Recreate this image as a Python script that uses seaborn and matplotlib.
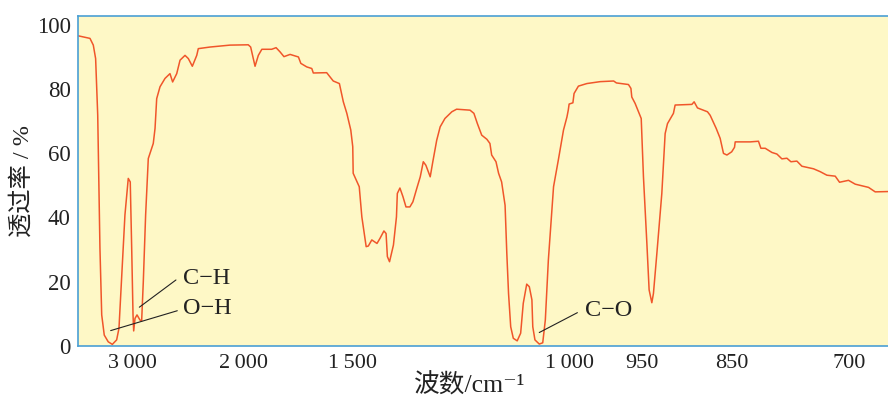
import numpy as np
import pandas as pd
import matplotlib
matplotlib.use("Agg")
import matplotlib.pyplot as plt
import seaborn as sns

# IR spectrum (wavenumber cm-1, transmittance %)
wavenumber = [
    3491, 3385, 3355, 3334, 3315, 3295, 3279, 3256, 3220, 3183, 3144, 3123, 3098, 3069,
    3039, 3021, 3008, 2996, 2990, 2978, 2960, 2933, 2918, 2903, 2882, 2858, 2813, 2797,
    2782, 2752, 2707, 2677, 2662, 2638, 2601, 2571, 2526, 2496, 2460, 2420, 2406, 2300,
    2120, 1977, 1966, 1946, 1931, 1915, 1870, 1850, 1832, 1814, 1786, 1748, 1737, 1710,
    1687, 1680, 1619, 1589, 1561, 1543, 1527, 1509, 1500, 1499, 1492, 1485, 1479, 1469,
    1464, 1456, 1444, 1437, 1428, 1423, 1420, 1415, 1406, 1399, 1397, 1391, 1384, 1377,
    1368, 1361, 1352, 1344, 1337, 1331, 1321, 1315, 1306, 1298, 1287, 1271, 1260, 1229,
    1220, 1212, 1202, 1190, 1183, 1179, 1169, 1163, 1156, 1148, 1144, 1140, 1135, 1129,
    1120, 1112, 1106, 1098, 1092, 1086, 1084, 1079, 1069, 1061, 1055, 1048, 1036, 1025,
    1013, 1005, 1002, 1000, 997.4, 996.6, 993.6, 987.8, 978.6, 969.3, 967.4, 959.1,
    957.4, 956.8, 954.5, 952.2, 950.3, 948, 944.2, 941.7, 938.7, 936.9, 933.1, 927.6,
    924.5, 923.9, 921.3, 914.7, 912.8, 894.2, 891.7, 888, 876.9, 873.9, 867.2, 862.8,
    859.1, 855.3, 850, 846.4, 845.5, 826.4, 815.9, 812.8, 807.3, 798.8, 792.4, 786.1,
    779.7, 774.6, 767, 760.6, 745.8, 737.3, 728.8, 718.2, 712.7, 701.3, 692.7, 675.8,
    667.3, 650.7,
]
transmittance = [
    96.7, 95.9, 93.8, 89.6, 71.9, 30.5, 9.6, 3.3, 1.2, 0.4, 1.8, 5.4, 22.0, 40.8,
    52.2, 51.1, 30.4, 9.6, 4.6, 8.5, 9.6, 8.0, 7.7, 20.0, 40.8, 58.4, 63.1, 67.8,
    77.1, 80.8, 83.4, 84.4, 84.9, 82.3, 84.9, 89.1, 90.6, 89.6, 87.2, 90.6, 92.7, 93.2,
    93.8, 93.9, 93.2, 87.2, 90.6, 92.5, 92.5, 93.0, 91.7, 90.2, 90.9, 90.1, 88.1, 87.0,
    86.5, 85.1, 85.2, 82.6, 81.8, 76.1, 72.5, 67.3, 62.1, 53.8, 51.7, 49.6, 40.2, 30.9,
    31.1, 33.0, 31.9, 33.5, 35.8, 35.0, 27.8, 26.2, 31.4, 40.2, 47.5, 49.2, 46.5, 43.3,
    43.3, 44.9, 49.1, 52.7, 57.4, 56.3, 52.7, 57.4, 64.1, 68.3, 70.9, 73.0, 73.8, 73.5,
    72.5, 69.3, 65.7, 64.4, 63.1, 59.5, 57.4, 53.8, 51.1, 43.8, 28.8, 16.3, 5.9, 2.3,
    1.5, 3.9, 13.2, 19.2, 18.4, 14.3, 5.9, 1.8, 0.5, 0.9, 8.0, 26.7, 49.6, 57.9,
    67.3, 71.4, 73.5, 75.4, 75.8, 78.7, 81.0, 81.8, 82.4, 82.6, 82.0, 81.5,
    80.3, 77.6, 75.6, 73.0, 70.9, 52.7, 31.9, 17.4, 13.4, 16.3, 28.8, 47.5,
    63.1, 66.2, 69.3, 72.5, 75.1, 75.3, 76.1, 74.2, 73.0, 71.9, 67.8, 64.7,
    60.0, 59.5, 60.5, 61.9, 63.6, 63.6, 63.8, 61.6, 61.6, 60.3, 59.8, 58.3,
    58.5, 57.4, 57.6, 56.0, 55.2, 54.3, 53.2, 52.9, 51.0, 51.6, 50.4, 49.4,
    48.0, 48.1,
]

tick_values = [3000, 2000, 1500, 1000, 950, 850, 700]
tick_labels = ["3\u2009000", "2\u2009000", "1\u2009500", "1\u2009000", "950", "850", "700"]

# the wavenumber axis is stretched differently in each range
# (knot positions grow with wavenumber; the axis itself is inverted below)
knot_wn = np.array([600, 700, 850, 950, 1000, 1500, 2000, 3000, 4000])
knot_pos = np.array([-927.8, -849.3, -731.5, -641.5, -569.0, -352.7, -243.2, -132.6, -22.0])


def forward(x):
    return np.interp(x, knot_wn, knot_pos)


def inverse(p):
    return np.interp(p, knot_pos, knot_wn)


sns.set_style("white")
plt.rcParams["font.family"] = ["Liberation Serif", "Noto Sans CJK SC", "DejaVu Serif"]

blue = "#4a9fd4"
ink = "#222222"
fig = plt.figure(figsize=(8.88, 4.01), dpi=100)
ax = fig.add_axes([0.0875, 0.138, 0.9125, 0.823])
ax.set_facecolor("#fef8c6")

df = pd.DataFrame({"wn": wavenumber, "T": transmittance})
sns.lineplot(data=df, x="wn", y="T", sort=False, estimator=None,
             color="#f0562a", linewidth=1.1, ax=ax)

ax.set_xscale("function", functions=(forward, inverse))
ax.set_xlim(3496, 651)
ax.set_ylim(0, 103)

ax.set_xticks(tick_values)
ax.set_xticklabels(tick_labels)
ax.set_yticks([0, 20, 40, 60, 80, 100])
ax.xaxis.set_minor_locator(matplotlib.ticker.NullLocator())

ax.tick_params(axis="x", direction="in", length=5, width=1, color=blue,
               labelsize=16, pad=6, labelcolor=ink)
ax.tick_params(axis="y", direction="in", length=7, width=1, color=blue,
               labelsize=16.5, pad=5, labelcolor=ink)

for side in ["left", "top", "bottom"]:
    ax.spines[side].set_color(blue)
    ax.spines[side].set_linewidth(1.2)
ax.spines["right"].set_visible(False)

ax.set_xlabel("波数/cm\u207b\u00b9", fontsize=18.5, color=ink)
ax.set_ylabel("透过率 / %", fontsize=17.5, color=ink)
ax.xaxis.set_label_coords((470 - 77.7) / (888 - 77.7), -0.082)
ax.yaxis.set_label_coords(-0.054, 0.5)

# band assignments
ax.plot([2939, 2608], [12.0, 20.5], color=ink, lw=0.8)
ax.plot([3198, 2596], [4.7, 10.9], color=ink, lw=0.8)
ax.plot([1069, 994.3], [4.1, 10.3], color=ink, lw=0.8)
ax.text(2542, 21.0, "C\u2212H", fontsize=17.5, va="center", ha="left", color=ink)
ax.text(2542, 11.7, "O\u2212H", fontsize=17.5, va="center", ha="left", color=ink)
ax.text(989, 10.9, "C\u2212O", fontsize=17.5, va="center", ha="left", color=ink)

fig.savefig("out.png", dpi=100)
